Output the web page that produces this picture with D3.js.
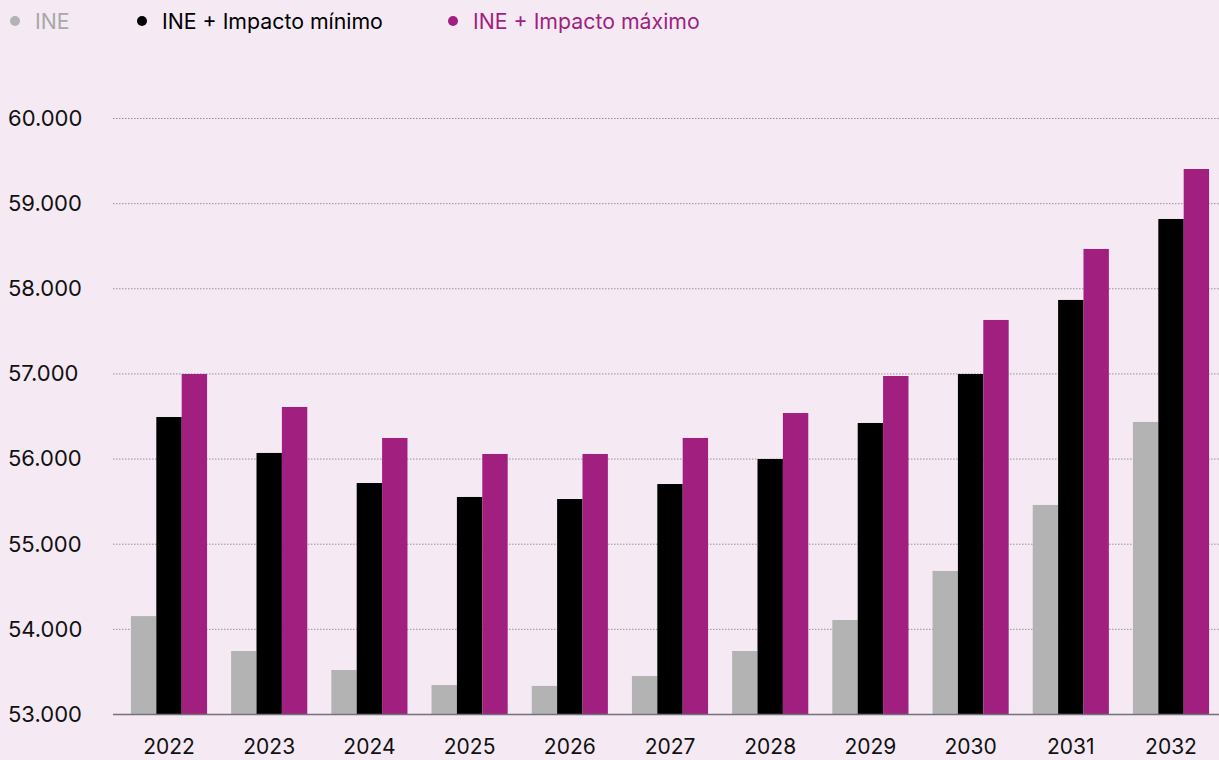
<!DOCTYPE html>
<html>
<head>
<meta charset="utf-8">
<script src="https://cdn.jsdelivr.net/npm/d3@7"></script>
<style>
  html, body { margin: 0; padding: 0; background: #f5eaf4; }
  svg { display: block; }
  text { font-family: Inter, "Noto Sans", sans-serif; }
</style>
</head>
<body>
<svg id="chart" width="1219" height="760"></svg>
<script>
// Years shown on the x axis
const years = ["2022","2023","2024","2025","2026","2027","2028","2029","2030","2031","2032"];
// Population projections per year
const ine        = [54150, 53740, 53517, 53340, 53330, 53446, 53740, 54104, 54680, 55455, 56430];
const impactoMin = [56488, 56066, 55713, 55549, 55525, 55701, 55995, 56418, 56993, 57863, 58814];
const impactoMax = [56993, 56606, 56242, 56054, 56054, 56242, 56535, 56970, 57628, 58462, 59401];
// Series names and colours
const seriesNames  = ["INE", "INE + Impacto mínimo", "INE + Impacto máximo"];
const seriesColors = ["#b3b3b3", "#000000", "#a01f7f"];
// Y axis ticks
const yTicks = [53000, 54000, 55000, 56000, 57000, 58000, 59000, 60000];

const series = [ine, impactoMin, impactoMax];
const svg = d3.select("#chart");

const left = 113, right = 1219;
const y = d3.scaleLinear().domain([53000, 60000]).range([714, 118]);
const x = d3.scaleBand().domain(years).range([118.9, 1221.1]).paddingInner(0.24).paddingOuter(0.12);
const xs = d3.scaleBand().domain(d3.range(series.length)).range([0, x.bandwidth()]);

const fmt = v => d3.format(",")(v).replace(/,/g, ".");

// Dotted gridlines
svg.append("g").selectAll("line")
  .data(yTicks.slice(1))
  .join("line")
  .attr("x1", left).attr("x2", right)
  .attr("y1", d => y(d) + 0.5).attr("y2", d => y(d) + 0.5)
  .attr("stroke", "#9a9098")
  .attr("stroke-width", 1)
  .attr("stroke-dasharray", "1.5,1.5");

// Y tick labels
svg.append("g").selectAll("text")
  .data(yTicks)
  .join("text")
  .attr("x", 8)
  .attr("y", d => y(d))
  .attr("dy", "0.36em")
  .attr("font-size", 22)
  .attr("fill", "#111")
  .text(fmt);

// Bars
const groups = svg.append("g").selectAll("g")
  .data(years)
  .join("g")
  .attr("transform", d => `translate(${x(d)},0)`);

groups.selectAll("rect")
  .data((d, i) => series.map((s, k) => ({ k, v: s[i] })))
  .join("rect")
  .attr("x", d => xs(d.k))
  .attr("width", xs.bandwidth())
  .attr("y", d => y(d.v))
  .attr("height", d => y(53000) - y(d.v) + 1)
  .attr("fill", d => seriesColors[d.k]);

// Baseline
svg.append("line")
  .attr("x1", left).attr("x2", right)
  .attr("y1", 714.5).attr("y2", 714.5)
  .attr("stroke", "#76707a")
  .attr("stroke-width", 1.6);

// X tick labels
svg.append("g").selectAll("text")
  .data(years)
  .join("text")
  .attr("x", d => x(d) + x.bandwidth() / 2)
  .attr("y", 754)
  .attr("text-anchor", "middle")
  .attr("font-size", 21)
  .attr("fill", "#111")
  .text(d => d);

// Legend
const legendX = [15, 142, 453];
const legend = svg.append("g").selectAll("g")
  .data(seriesNames)
  .join("g")
  .attr("transform", (d, i) => `translate(${legendX[i]},21)`);
legend.append("circle").attr("r", 5).attr("fill", (d, i) => seriesColors[i]);
legend.append("text")
  .attr("x", 20)
  .attr("dy", "0.36em")
  .attr("font-size", 21.3)
  .attr("fill", (d, i) => i === 0 ? "#a8a8a8" : seriesColors[i])
  .text(d => d);
</script>
</body>
</html>
